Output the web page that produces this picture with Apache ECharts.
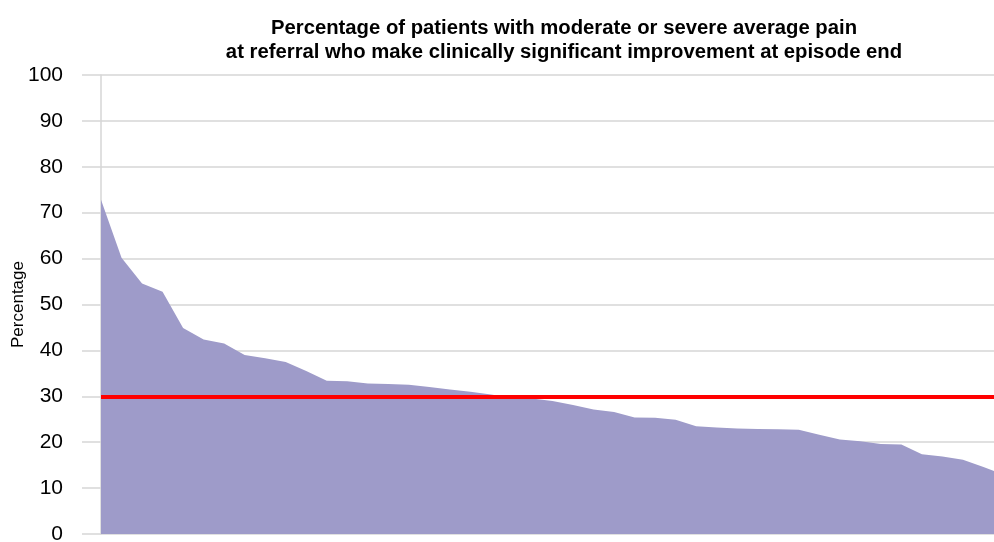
<!DOCTYPE html>
<html lang="en">

<head>
    <meta charset="UTF-8">
    <title>Clinically significant improvement</title>
    <script src="https://cdn.jsdelivr.net/npm/echarts@6/dist/echarts.min.js"></script>
    <style type="text/css">
        html, body { margin: 0; padding: 0; background: #fff; overflow: hidden; }
        #main { width: 994px; height: 542px; }
    </style>
</head>

<body>
    <div id="main"></div>
    <script type="text/javascript">
    // services, sorted by percentage (the chart is cut off at the right edge)
    var services = [];
    for (var i = 1; i <= 45; i++) {
        services.push('S' + i);
    }
    var percentValues = [72.8, 60.2, 54.6, 52.8, 44.9, 42.4, 41.5, 39.0, 38.3, 37.5,
        35.5, 33.4, 33.3, 32.8, 32.7, 32.5, 32.0, 31.5, 31.0, 30.4,
        29.7, 29.5, 29.0, 28.1, 27.1, 26.6, 25.4, 25.3, 24.9, 23.5,
        23.2, 23.0, 22.9, 22.8, 22.7, 21.6, 20.6, 20.2, 19.6, 19.5,
        17.4, 16.9, 16.2, 14.6, 12.9];
    var targetValue = 30;
    var yTicks = [0, 10, 20, 30, 40, 50, 60, 70, 80, 90, 100];

    var titleText = 'Percentage of patients with moderate or severe average pain\n' +
        'at referral who make clinically significant improvement at episode end';

    var myChart = echarts.init(document.getElementById('main'));
    var gridGrey = '#d6d6d6';

    var option = {
        animation: false,
        textStyle: { fontFamily: 'Liberation Sans, Arial, sans-serif' },
        title: {
            text: titleText,
            left: 559,
            top: 11,
            textAlign: 'center',
            textStyle: {
                fontSize: 20.3,
                fontWeight: 'bold',
                color: '#000',
                lineHeight: 24
            }
        },
        grid: {
            left: 101,
            right: -10,
            top: 75,
            bottom: 8,
            outerBoundsMode: 'none',
            containLabel: false
        },
        xAxis: {
            type: 'category',
            data: services,
            boundaryGap: false,
            axisLine: { show: false },
            axisTick: { show: false },
            axisLabel: { show: false },
            splitLine: { show: false }
        },
        yAxis: {
            type: 'value',
            min: yTicks[0],
            max: yTicks[yTicks.length - 1],
            interval: 10,
            name: 'Percentage',
            nameLocation: 'middle',
            nameMoveOverlap: false,
            nameGap: 74,
            nameTextStyle: { fontSize: 17, color: '#000' },
            axisLine: { show: true, lineStyle: { color: gridGrey, width: 1.5 } },
            axisTick: { show: true, length: 19, lineStyle: { color: gridGrey, width: 1.5 } },
            axisLabel: { fontSize: 21, color: '#000', margin: 38 },
            splitLine: { show: true, lineStyle: { color: gridGrey, width: 1.5 } }
        },
        series: [{
            name: 'Percentage',
            type: 'line',
            data: percentValues,
            showSymbol: false,
            lineStyle: { width: 0 },
            areaStyle: { color: '#9e9bc9', opacity: 1 },
            markLine: {
                silent: true,
                symbol: 'none',
                label: { show: false },
                lineStyle: { color: '#ff0000', width: 4, type: 'solid' },
                data: [{ yAxis: targetValue }]
            }
        }]
    };

    myChart.setOption(option);
    </script>
</body>

</html>
